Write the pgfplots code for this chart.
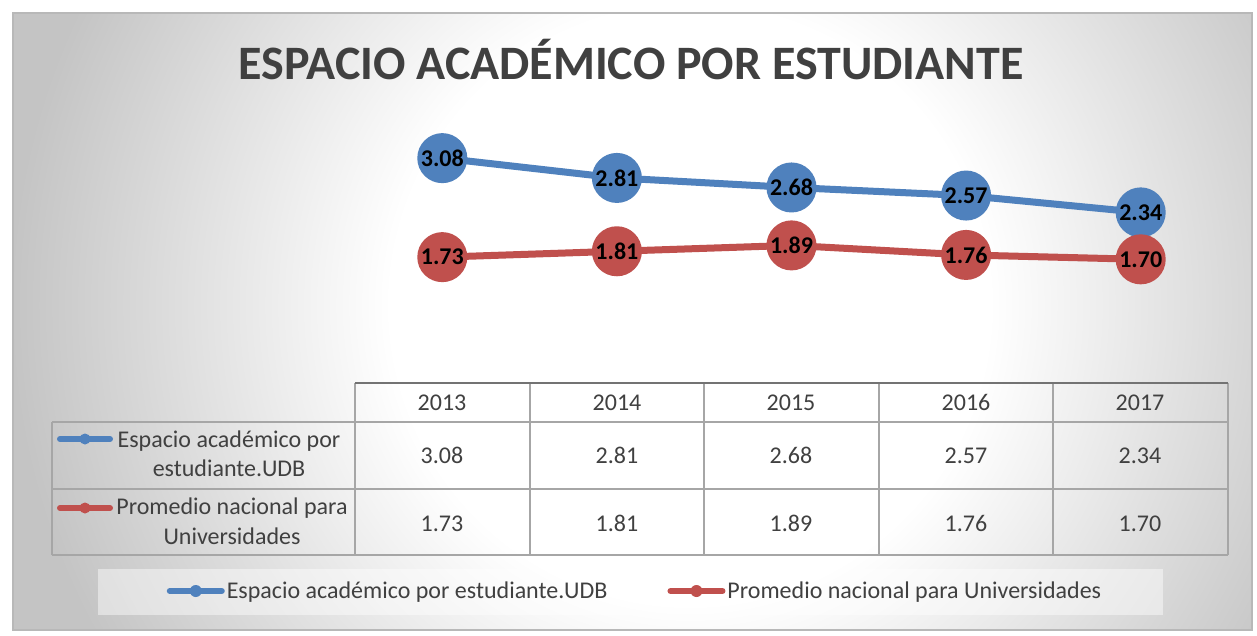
\documentclass[border=0pt]{standalone}
\usepackage{pgfplots}
\pgfplotsset{compat=1.18}
\usepackage{fontspec}
\setmainfont{Carlito}
\definecolor{ublue}{HTML}{4F81BD}
\definecolor{ured}{HTML}{C0504D}
\definecolor{txt}{HTML}{404040}
\definecolor{grid}{HTML}{A6A6A6}
\definecolor{bgg}{HTML}{C4C4C4}
\pgfdeclareradialshading{bgshade}{\pgfpoint{0bp}{0bp}}{color(0bp)=(white);color(11bp)=(white);color(25bp)=(bgg);color(50bp)=(bgg)}
\newcommand{\tf}{\fontsize{24}{28}\selectfont}
\begin{document}
\begin{tikzpicture}[x=1pt,y=1pt]
\useasboundingbox (0,0) rectangle (1257,635);
\fill[white] (0,0) rectangle (1257,635);
\begin{scope}
\clip (13,5) rectangle (1252,622);
\fill[bgg] (13,5) rectangle (1252,622);
\shade[shading=bgshade] (690-680,330-680) rectangle (690+680,330+680);
\end{scope}
\draw[grid!80, line width=1.2pt] (13,5) rectangle (1252,622);
% title
\node[anchor=base, text=txt, font=\bfseries\fontsize{48}{48}\selectfont] at (631,555) {ESPACIO ACADÉMICO POR ESTUDIANTE};
% legend box
\fill[white, opacity=0.45] (98,20) rectangle (1163,66);
% table
\begin{scope}[grid, line width=1.3pt]
\draw (52,213) -- (1228,213);
\draw (52,146) -- (1228,146);
\draw (52,80) -- (1228,80);
\draw (52,213) -- (52,80);
\foreach \xx in {355,530,704,879,1053,1228} {\draw (\xx,252) -- (\xx,80);}
\end{scope}
\draw[color=gray!90!black, line width=2pt] (355,252) -- (1228,252);
\begin{scope}[text=txt, font=\tf]
\foreach \xx/\yr in {442/2013,617/2014,791/2015,966/2016,1140/2017} {\node[anchor=base] at (\xx,225) {\yr};}
\foreach \xx/\v in {442/3.08,617/2.81,791/2.68,966/2.57,1140/2.34} {\node[anchor=base] at (\xx,172) {\v};}
\foreach \xx/\v in {442/1.73,617/1.81,791/1.89,966/1.76,1140/1.70} {\node[anchor=base] at (\xx,104) {\v};}
\node[anchor=base] at (229,188) {Espacio académico por};
\node[anchor=base] at (229,159) {estudiante.UDB};
\node[anchor=base] at (232,121) {Promedio nacional para};
\node[anchor=base] at (232,91) {Universidades};
\end{scope}
\draw[ublue, line width=6pt, line cap=round] (60,196) -- (110,196);
\fill[ublue] (85,196) circle (5.5);
\draw[ured, line width=6pt, line cap=round] (60,127) -- (110,127);
\fill[ured] (85,127) circle (5.5);
% plot
\begin{axis}[
  at={(355pt,251pt)}, anchor=south west,
  scale only axis, width=873pt, height=286pt,
  xmin=-0.5, xmax=4.5, ymin=0, ymax=3.9,
  axis lines=none, ticks=none,
  clip=false,
  /pgf/number format/assume math mode=true,
  /pgf/number format/.cd, fixed, fixed zerofill, precision=2, /pgfplots/.cd,
  nodes near coords,
  every node near coord/.append style={anchor=center, font=\bfseries\fontsize{24}{24}\selectfont, text=black},
  legend columns=2,
  legend style={at={(rel axis cs:0.3207,-0.7238)}, anchor=center, draw=none, fill=none,
    font=\tf, text=txt, inner sep=0pt,
    /tikz/every even column/.append style={column sep=58pt}},
  legend image code/.code={\draw[#1, line width=6pt, line cap=round, mark=none] (0pt,0pt) -- (52pt,0pt); \path[#1, draw=none, fill] (26pt,0pt) circle (6pt);},
]
\addplot[color=ublue, line width=7pt, mark=*, mark size=21.5pt, mark options={draw=none, fill=ublue}] coordinates {(0,3.08) (1,2.81) (2,2.68) (3,2.57) (4,2.34)};
\addlegendentry{Espacio académico por estudiante.UDB}
\addplot[color=ured, line width=7pt, mark=*, mark size=21.5pt, mark options={draw=none, fill=ured}] coordinates {(0,1.73) (1,1.81) (2,1.89) (3,1.76) (4,1.70)};
\addlegendentry{Promedio nacional para Universidades}
\end{axis}
\end{tikzpicture}
\end{document}
